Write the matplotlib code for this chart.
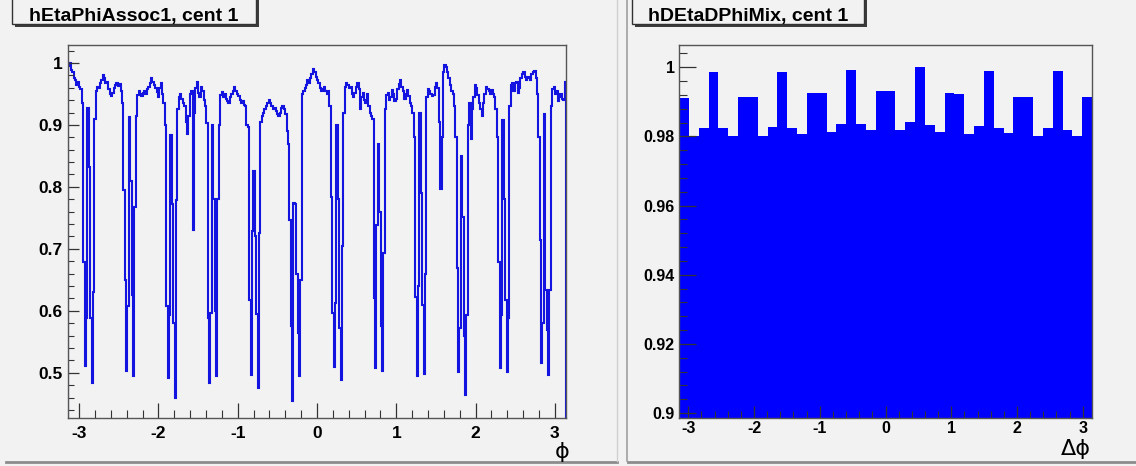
import numpy as np
import matplotlib
matplotlib.use("Agg")
from matplotlib import pyplot as plt
from matplotlib.patches import Rectangle
from matplotlib.ticker import MultipleLocator, FixedLocator, FixedFormatter

# hEtaPhiAssoc1, cent 1 : 360 bins in phi, one row per TPC sector (30 bins)
eta_phi_assoc = [
    0.995, 1.000, 0.988, 0.985, 0.975, 0.972, 0.965, 0.970, 0.962, 0.958,
    0.935, 0.679, 0.511, 0.588, 0.927, 0.832, 0.588, 0.484, 0.631,
    0.910, 0.955, 0.962, 0.960, 0.967, 0.972, 0.980, 0.975, 0.968, 0.970, 0.958,
    0.950, 0.946, 0.952, 0.960, 0.965, 0.967, 0.963, 0.966, 0.955, 0.935,
    0.795, 0.650, 0.503, 0.607, 0.913, 0.810, 0.626, 0.494, 0.768,
    0.915, 0.948, 0.955, 0.950, 0.946, 0.952, 0.955, 0.950, 0.958, 0.962, 0.968,
    0.975, 0.970, 0.964, 0.960, 0.953, 0.945, 0.960, 0.967, 0.950, 0.935,
    0.900, 0.607, 0.492, 0.594, 0.884, 0.773, 0.580, 0.460, 0.779,
    0.925, 0.945, 0.950, 0.942, 0.935, 0.930, 0.905, 0.885, 0.915, 0.950, 0.955,
    0.730, 0.920, 0.960, 0.970, 0.952, 0.945, 0.962, 0.955, 0.940, 0.930,
    0.903, 0.588, 0.483, 0.597, 0.900, 0.780, 0.600, 0.494, 0.780,
    0.900, 0.948, 0.953, 0.945, 0.950, 0.942, 0.938, 0.935, 0.945, 0.950, 0.955,
    0.962, 0.955, 0.950, 0.946, 0.940, 0.935, 0.938, 0.932, 0.930, 0.900,
    0.897, 0.617, 0.496, 0.728, 0.826, 0.720, 0.595, 0.475, 0.725,
    0.905, 0.915, 0.920, 0.925, 0.930, 0.935, 0.940, 0.936, 0.930, 0.925, 0.928,
    0.922, 0.918, 0.915, 0.920, 0.928, 0.930, 0.926, 0.918, 0.890, 0.870,
    0.747, 0.575, 0.455, 0.774, 0.772, 0.660, 0.564, 0.494, 0.650,
    0.950, 0.955, 0.960, 0.965, 0.972, 0.968, 0.975, 0.982, 0.990, 0.985, 0.978,
    0.972, 0.968, 0.960, 0.955, 0.958, 0.962, 0.955, 0.950, 0.955, 0.930,
    0.784, 0.597, 0.510, 0.612, 0.900, 0.780, 0.572, 0.489, 0.705,
    0.920, 0.962, 0.968, 0.965, 0.960, 0.962, 0.950, 0.945, 0.952, 0.962, 0.967,
    0.958, 0.925, 0.945, 0.952, 0.940, 0.935, 0.950, 0.930, 0.920, 0.915,
    0.910, 0.620, 0.508, 0.739, 0.870, 0.760, 0.575, 0.503, 0.693,
    0.925, 0.948, 0.952, 0.940, 0.945, 0.956, 0.950, 0.938, 0.942, 0.958, 0.966,
    0.972, 0.962, 0.955, 0.942, 0.950, 0.956, 0.946, 0.935, 0.930, 0.920,
    0.881, 0.623, 0.494, 0.640, 0.920, 0.790, 0.610, 0.498, 0.660,
    0.945, 0.958, 0.955, 0.950, 0.946, 0.948, 0.962, 0.967, 0.960, 0.905, 0.796,
    0.880, 0.985, 0.997, 0.993, 0.985, 0.975, 0.965, 0.955, 0.950, 0.930,
    0.881, 0.669, 0.502, 0.572, 0.850, 0.752, 0.559, 0.464, 0.594,
    0.900, 0.935, 0.877, 0.925, 0.945, 0.965, 0.960, 0.948, 0.935, 0.925, 0.915,
    0.935, 0.950, 0.962, 0.958, 0.955, 0.950, 0.956, 0.950, 0.945, 0.925,
    0.881, 0.679, 0.507, 0.594, 0.908, 0.780, 0.617, 0.501, 0.588,
    0.930, 0.965, 0.968, 0.955, 0.967, 0.970, 0.952, 0.960, 0.975, 0.982, 0.985,
    0.978, 0.972, 0.978, 0.976, 0.972, 0.982, 0.985, 0.987, 0.975, 0.950,
    0.881, 0.714, 0.515, 0.580, 0.918, 0.634, 0.569, 0.496, 0.634,
    0.930, 0.958, 0.962, 0.950, 0.955, 0.938, 0.945, 0.950, 0.942, 0.940, 0.970,
]

# hDEtaDPhiMix, cent 1 : 42 bins in delta phi
deta_dphi_mix = [
    0.9910, 0.9802, 0.9825, 0.9986, 0.9823, 0.9802, 0.9914,
    0.9914, 0.9802, 0.9828, 0.9986, 0.9823, 0.9806, 0.9925,
    0.9925, 0.9813, 0.9835, 0.9993, 0.9835, 0.9817, 0.9931,
    0.9931, 0.9819, 0.9841, 1.0001, 0.9834, 0.9814, 0.9925,
    0.9921, 0.9808, 0.9830, 0.9990, 0.9823, 0.9810, 0.9914,
    0.9914, 0.9802, 0.9825, 0.9990, 0.9817, 0.9802, 0.9913,
]

x_ticks = [-3, -2, -1, 0, 1, 2, 3]
left_y_ticks = [0.5, 0.6, 0.7, 0.8, 0.9, 1.0]
left_y_labels = ["0.5", "0.6", "0.7", "0.8", "0.9", "1"]
right_y_ticks = [0.90, 0.92, 0.94, 0.96, 0.98, 1.00]
right_y_labels = ["0.9", "0.92", "0.94", "0.96", "0.98", "1"]

W, H = 1136, 466
BG = "#f2f2f2"
FONT = "Liberation Sans"


def px_rect(x0, y0, x1, y1):
    # pixel box (top-left origin) -> figure fraction [l, b, w, h]
    return [x0 / W, (H - y1) / H, (x1 - x0) / W, (y1 - y0) / H]


def style_axis(ax, xlen, xminor, ylen, yminor, size, xpad, ypad):
    ax.set_facecolor(BG)
    for s in ax.spines.values():
        s.set_color("#555555")
        s.set_linewidth(1.0)
    ax.tick_params(which="both", direction="in", top=False, right=False, colors="#333333")
    ax.tick_params(axis="x", which="major", length=xlen, width=0.9, pad=xpad)
    ax.tick_params(axis="x", which="minor", length=xminor, width=0.8)
    ax.tick_params(axis="y", which="major", length=ylen, width=0.9, pad=ypad)
    ax.tick_params(axis="y", which="minor", length=yminor, width=0.8)
    for lab in ax.get_xticklabels() + ax.get_yticklabels():
        lab.set_fontfamily(FONT)
        lab.set_fontweight("bold")
        lab.set_fontsize(size)
        lab.set_color("black")


fig = plt.figure(figsize=(W / 100, H / 100), dpi=100)
fig.patch.set_facecolor(BG)

# ---- left pad
ax1 = fig.add_axes(px_rect(68, 45, 566, 418))
edges1 = np.linspace(-np.pi, np.pi, len(eta_phi_assoc) + 1)
ax1.stairs(eta_phi_assoc, edges1, color="#1414e0", linewidth=1.5)
ax1.set_xlim(-np.pi, np.pi)
ax1.set_ylim(0.427, 1.029)
ax1.xaxis.set_major_locator(FixedLocator(x_ticks))
ax1.xaxis.set_major_formatter(FixedFormatter([str(t) for t in x_ticks]))
ax1.xaxis.set_minor_locator(MultipleLocator(0.2))
ax1.yaxis.set_major_locator(FixedLocator(left_y_ticks))
ax1.yaxis.set_major_formatter(FixedFormatter(left_y_labels))
ax1.yaxis.set_minor_locator(MultipleLocator(0.02))
style_axis(ax1, 11, 6, 8, 4, 12.5, 6, 4)

# ---- right pad
ax2 = fig.add_axes(px_rect(679, 45, 1092, 418))
edges2 = np.linspace(-np.pi, np.pi, len(deta_dphi_mix) + 1)
ax2.stairs(deta_dphi_mix, edges2, fill=True, baseline=0.0, color="#0000ff")
ax2.set_xlim(-np.pi, np.pi)
ax2.set_ylim(0.8986, 1.0064)
ax2.xaxis.set_major_locator(FixedLocator(x_ticks))
ax2.xaxis.set_major_formatter(FixedFormatter([str(t) for t in x_ticks]))
ax2.xaxis.set_minor_locator(MultipleLocator(0.2))
ax2.yaxis.set_major_locator(FixedLocator(right_y_ticks))
ax2.yaxis.set_major_formatter(FixedFormatter(right_y_labels))
ax2.yaxis.set_minor_locator(MultipleLocator(0.004))
style_axis(ax2, 9, 5, 12, 6, 11.5, 2, 3)

# axis titles at the end of the x axes
fig.text(562 / W, (H - 452) / H, "\u03d5", ha="center", va="center",
         fontsize=16, family=["DejaVu Sans"])
fig.text(1091 / W, (H - 449) / H, "\u0394\u03d5", ha="right", va="center",
         fontsize=16, family=["DejaVu Sans"])

# pad borders
fig.add_artist(plt.Line2D([6 / W, 617 / W], [(H - 462) / H] * 2, color="#8c8c8c", lw=2))
fig.add_artist(plt.Line2D([628 / W, 1 - 0.5 / W], [(H - 462) / H] * 2, color="#8c8c8c", lw=2))
fig.add_artist(plt.Line2D([627 / W] * 2, [(H - 461) / H, 1], color="#a0a0a0", lw=1.2))
fig.add_artist(plt.Line2D([617 / W] * 2, [(H - 461) / H, 1], color="#d0d0d0", lw=1.0))

# title boxes with shadow
for (bx0, bx1, title) in [(12, 256, "hEtaPhiAssoc1, cent 1"),
                          (632, 864, "hDEtaDPhiMix, cent 1")]:
    shadow = Rectangle(((bx0 + 3) / W, (H - 27) / H), (bx1 - bx0) / W, 40 / H,
                       transform=fig.transFigure, facecolor="#3c3c3c", edgecolor="none")
    box = Rectangle((bx0 / W, (H - 24) / H), (bx1 - bx0) / W, 40 / H,
                    transform=fig.transFigure, facecolor=BG, edgecolor="#333333", lw=1.0)
    fig.add_artist(shadow)
    fig.add_artist(box)
    fig.text((bx0 + bx1) / 2 / W, (H - 20.5) / H, title, ha="center", va="baseline",
             fontsize=14, fontweight="bold", family=[FONT])

fig.savefig("out.png", dpi=100, facecolor=BG)
